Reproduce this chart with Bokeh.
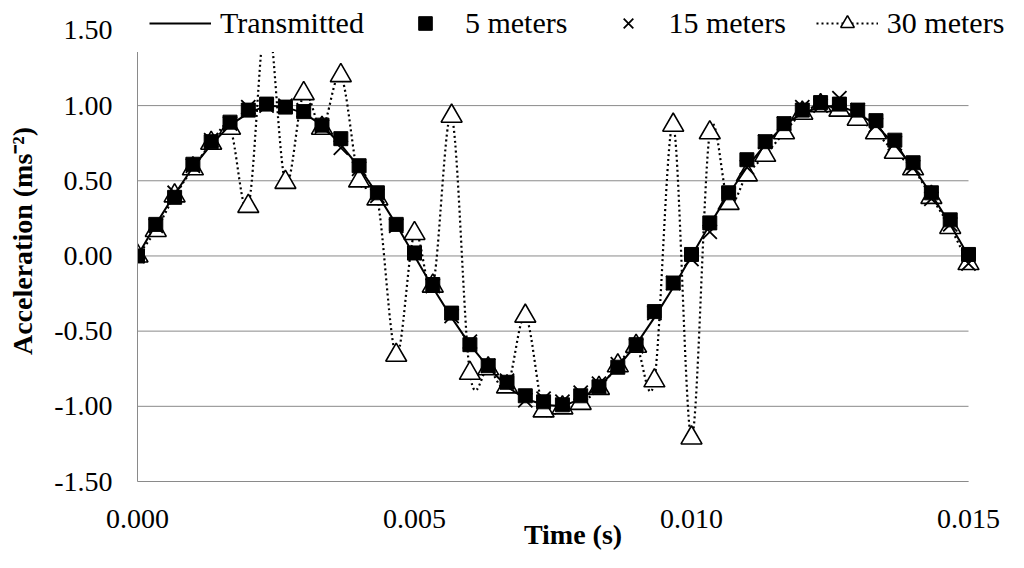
import numpy as np

from bokeh.plotting import figure
from bokeh.models import (Range1d, FixedTicker, NumeralTickFormatter, Legend,
                          LegendItem)
from bokeh.embed import file_html
from bokeh.resources import INLINE

# sample times (s)
time_s = [0.00000, 0.00033, 0.00067, 0.00100, 0.00133, 0.00167, 0.00200, 0.00233,
          0.00267, 0.00300, 0.00333, 0.00367, 0.00400, 0.00433, 0.00467, 0.00500,
          0.00533, 0.00567, 0.00600, 0.00633, 0.00667, 0.00700, 0.00733, 0.00767,
          0.00800, 0.00833, 0.00867, 0.00900, 0.00933, 0.00967, 0.01000, 0.01033,
          0.01067, 0.01100, 0.01133, 0.01167, 0.01200, 0.01233, 0.01267, 0.01300,
          0.01333, 0.01367, 0.01400, 0.01433, 0.01467, 0.01500]

# acceleration (m/s^2)
transmitted = [0.00, 0.21, 0.41, 0.59, 0.74, 0.87, 0.95, 1.00, 0.99, 0.95, 0.87, 0.74,
               0.59, 0.41, 0.21, 0.00, -0.21, -0.41, -0.59, -0.74, -0.87, -0.95, -0.99,
               -1.00, -0.95, -0.87, -0.74, -0.59, -0.41, -0.21, 0.00, 0.21, 0.41, 0.59,
               0.74, 0.87, 0.95, 0.99, 1.00, 0.95, 0.87, 0.74, 0.59, 0.41, 0.21, 0.00]
m5 = [0.00, 0.21, 0.39, 0.61, 0.76, 0.89, 0.97, 1.01, 0.99, 0.96, 0.87, 0.78,
      0.60, 0.42, 0.21, 0.02, -0.19, -0.38, -0.59, -0.73, -0.84, -0.93, -0.97,
      -0.99, -0.93, -0.87, -0.74, -0.59, -0.37, -0.18, 0.01, 0.22, 0.42, 0.64,
      0.76, 0.88, 0.97, 1.02, 1.01, 0.97, 0.90, 0.77, 0.62, 0.42, 0.24, 0.01]
m15 = [0.00, 0.20, 0.42, 0.60, 0.77, 0.88, 0.99, 1.00, 1.00, 0.97, 0.86, 0.72,
       0.58, 0.40, 0.20, 0.02, -0.20, -0.40, -0.57, -0.73, -0.83, -0.96, -0.95,
       -0.97, -0.91, -0.85, -0.72, -0.60, -0.38, -0.18, -0.02, 0.16, 0.41, 0.59,
       0.76, 0.88, 0.99, 1.00, 1.05, 0.97, 0.87, 0.75, 0.59, 0.38, 0.21, -0.05]
m30 = [0.00, 0.17, 0.40, 0.58, 0.75, 0.85, 0.33, 1.62, 0.49, 1.08, 0.85, 1.20,
       0.50, 0.38, -0.66, 0.15, -0.20, 0.93, -0.78, -0.75, -0.87, -0.40, -1.03,
       -1.01, -0.98, -0.88, -0.73, -0.60, -0.83, 0.87, -1.21, 0.82, 0.35, 0.54,
       0.67, 0.82, 0.95, 1.00, 0.97, 0.91, 0.82, 0.69, 0.58, 0.39, 0.19, -0.05]

x_ticks = [0.0, 0.005, 0.010, 0.015]
y_ticks = [-1.5, -1.0, -0.5, 0.0, 0.5, 1.0, 1.5]

FONT = "Times"
GRID = "#8a8a8a"

# frame runs a little past the axes on the top and right so the legend
# (clipped to the frame) can sit where Excel put it
p = figure(width=1008, height=552, output_backend="svg", toolbar_location=None,
           tools="", x_range=Range1d(0, 0.015722), y_range=Range1d(-1.5, 1.699),
           min_border_left=137, min_border_right=0, min_border_top=0,
           min_border_bottom=70)
p.outline_line_color = None
p.xgrid.grid_line_color = None
p.ygrid.grid_line_color = None

# horizontal gridlines only across the axis extent
p.segment(x0=[x_ticks[0]] * len(y_ticks), x1=[x_ticks[-1]] * len(y_ticks),
          y0=y_ticks, y1=y_ticks, line_color=GRID, line_width=1)

for ax in (p.xaxis, p.yaxis):
    ax.axis_line_color = GRID
    ax.major_tick_line_color = None
    ax.minor_tick_line_color = None
    ax.major_label_text_font = FONT
    ax.major_label_text_font_size = "28px"
    ax.major_label_text_color = "black"
    ax.axis_label_text_font = FONT
    ax.axis_label_text_font_size = "28px"
    ax.axis_label_text_font_style = "bold"
    ax.axis_label_text_color = "black"

p.xaxis.ticker = FixedTicker(ticks=x_ticks)
p.xaxis.bounds = (x_ticks[0], x_ticks[-1])
p.xaxis.formatter = NumeralTickFormatter(format="0.000")
p.xaxis.major_label_standoff = 22
p.xaxis.axis_label = "Time (s)"
p.xaxis.axis_label_standoff = -12

p.yaxis.ticker = FixedTicker(ticks=y_ticks)
p.yaxis.bounds = (y_ticks[0], y_ticks[-1])
p.yaxis.formatter = NumeralTickFormatter(format="0.00")
p.yaxis.major_label_standoff = 19
p.yaxis.axis_label = "Acceleration (ms⁻²)"
p.yaxis.axis_label_standoff = 13

# 30 m: smoothed dotted line (bezier segments, Excel-style smoothing)
xs = np.array(time_s)
ys = np.array(m30)
n = len(xs)
i = np.arange(n - 1)
i0 = np.clip(i - 1, 0, n - 1)
i2 = i + 1
i3 = np.clip(i + 2, 0, n - 1)
r30_line = p.bezier(x0=xs[i], y0=ys[i], x1=xs[i2], y1=ys[i2],
                    cx0=xs[i] + (xs[i2] - xs[i0]) / 6, cy0=ys[i] + (ys[i2] - ys[i0]) / 6,
                    cx1=xs[i2] - (xs[i3] - xs[i]) / 6, cy1=ys[i2] - (ys[i3] - ys[i]) / 6,
                    line_color="black", line_width=2.2, line_dash="2 3")
r30 = p.scatter(time_s, m30, marker="triangle", size=21, fill_color="white",
                line_color="black", line_width=1.6)

r_tx = p.line(time_s, transmitted, line_color="black", line_width=2)
r5 = p.scatter(time_s, m5, marker="square", size=14, fill_color="black",
               line_color="black")
r15 = p.scatter(time_s, m15, marker="x", size=20, line_color="black", line_width=1.8)

legend = Legend(items=[
    LegendItem(label="Transmitted", renderers=[r_tx]),
    LegendItem(label="5 meters", renderers=[r5]),
    LegendItem(label="15 meters", renderers=[r15]),
    LegendItem(label="30 meters", renderers=[r30_line, r30]),
], orientation="horizontal", location=(0, 429))
legend.label_text_font = FONT
legend.label_text_font_size = "30px"
legend.label_text_color = "black"
legend.glyph_width = 62
legend.glyph_height = 34
legend.label_height = 34
legend.label_standoff = 9
legend.spacing = 30
legend.padding = 10
legend.margin = 0
legend.border_line_color = "white"
legend.border_line_width = 2
legend.background_fill_color = "white"
legend.background_fill_alpha = 1.0
p.add_layout(legend, "center")

open("out.html", "w").write(file_html(p, INLINE))
